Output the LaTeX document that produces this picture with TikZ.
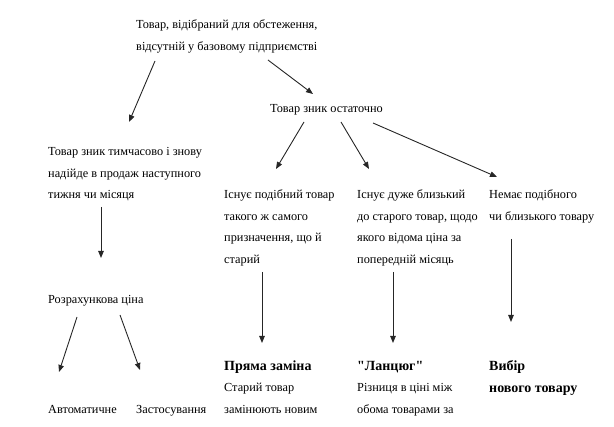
\documentclass[tikz,border=0pt]{standalone}
\usepackage{fontspec}
\setmainfont{Liberation Serif}
\usetikzlibrary{arrows.meta}
\newcommand{\headtxt}[1]{{\fontsize{14}{21.5}\selectfont\bfseries #1}}
\tikzset{
  txt/.style={anchor=base west, inner sep=0pt, align=left, font=\fontsize{12.3}{21.5}\selectfont, text=black},
  arr/.style={line width=0.9pt, draw=black!85, -{Triangle[length=7pt,width=5.5pt]}}
}
\begin{document}
\begin{tikzpicture}[x=1pt,y=-1pt]
\useasboundingbox (0,0) rectangle (614,427);
% nodes (anchored at the baseline of their last line)
\node[txt] (top) at (136,50.5) {Товар, відібраний для обстеження,\\відсутній у базовому підприємстві};
\node[txt] (gone) at (270,113) {Товар зник остаточно};
\node[txt] (temp) at (48,199) {Товар зник тимчасово і знову\\надійде в продаж наступного\\тижня чи місяця};
\node[txt] (sim) at (224,263.5) {Існує подібний товар\\такого ж самого\\призначення, що й\\старий};
\node[txt] (close) at (357,263.5) {Існує дуже близький\\до старого товар, щодо\\якого відома ціна за\\попередній місяць};
\node[txt] (none) at (489,220.5) {Немає подібного\\чи близького товару};
\node[txt] (calc) at (48,304) {Розрахункова ціна};
\node[txt] (auto) at (48,414) {Автоматичне};
\node[txt] (appl) at (136,414) {Застосування};
\node[txt] (direct) at (224,413.5) {\headtxt{Пряма заміна}\\Старий товар\\замінюють новим};
\node[txt] (chain) at (357,413.5) {\headtxt{\textquotedbl Ланцюг\textquotedbl}\\Різниця в ціні між\\обома товарами за};
\node[txt] (choice) at (489,392.5) {\headtxt{Вибір}\\\headtxt{нового товару}};
% connector ends
\coordinate (a1s) at (155,61);  \coordinate (a1e) at (129,122);
\coordinate (a2s) at (268,60);  \coordinate (a2e) at (313,94);
\coordinate (a3s) at (304,122); \coordinate (a3e) at (276,169);
\coordinate (a4s) at (341,122); \coordinate (a4e) at (369,169);
\coordinate (a5s) at (373,123); \coordinate (a5e) at (497,177);
\coordinate (a6s) at (101,207); \coordinate (a6e) at (101,258);
\coordinate (a7s) at (77,317);  \coordinate (a7e) at (59,372);
\coordinate (a8s) at (120,315); \coordinate (a8e) at (140,370);
\coordinate (a9s) at (262,272); \coordinate (a9e) at (262,343);
\coordinate (a10s) at (393,272); \coordinate (a10e) at (393,343);
\coordinate (a11s) at (511,239); \coordinate (a11e) at (511,322);
\foreach \i in {1,...,11} \draw[arr] (a\i s) -- (a\i e);
\end{tikzpicture}
\end{document}
